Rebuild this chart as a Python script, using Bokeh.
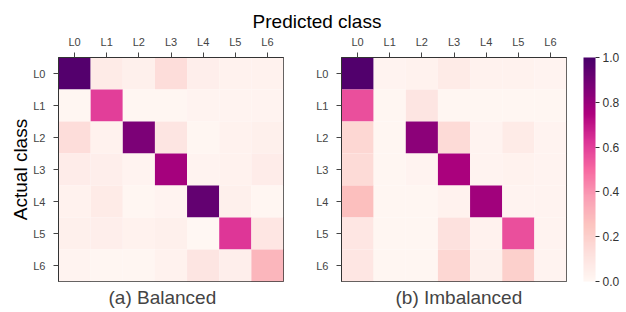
from bokeh.plotting import figure
from bokeh.models import (FactorRange, LinearColorMapper, ColorBar, FixedTicker,
                          Title, Div, ColumnDataSource, PrintfTickFormatter)
from bokeh.layouts import row, column
from bokeh.palettes import RdPu9
from bokeh.embed import file_html
from bokeh.resources import INLINE

classes = ["L0", "L1", "L2", "L3", "L4", "L5", "L6"]

# rows = actual class, columns = predicted class
balanced = [
    [0.97, 0.07, 0.04, 0.14, 0.05, 0.03, 0.03],
    [0.01, 0.60, 0.01, 0.01, 0.02, 0.02, 0.02],
    [0.14, 0.03, 0.87, 0.10, 0.01, 0.03, 0.04],
    [0.06, 0.05, 0.02, 0.77, 0.02, 0.03, 0.06],
    [0.03, 0.07, 0.01, 0.02, 0.93, 0.04, 0.01],
    [0.04, 0.05, 0.03, 0.04, 0.00, 0.62, 0.09],
    [0.02, 0.01, 0.01, 0.03, 0.10, 0.05, 0.30],
]
imbalanced = [
    [0.98, 0.02, 0.03, 0.07, 0.03, 0.03, 0.02],
    [0.56, 0.01, 0.10, 0.01, 0.01, 0.01, 0.01],
    [0.17, 0.01, 0.83, 0.15, 0.02, 0.07, 0.02],
    [0.15, 0.01, 0.02, 0.76, 0.02, 0.03, 0.02],
    [0.27, 0.01, 0.01, 0.03, 0.78, 0.02, 0.02],
    [0.09, 0.01, 0.01, 0.12, 0.03, 0.56, 0.02],
    [0.09, 0.01, 0.01, 0.17, 0.04, 0.20, 0.02],
]
colorbar_ticks = [0.0, 0.2, 0.4, 0.6, 0.8, 1.0]


def hex2rgb(h):
    h = h.lstrip("#")
    return [int(h[i:i + 2], 16) for i in (0, 2, 4)]


stops = [hex2rgb(c) for c in reversed(RdPu9)]  # light -> dark
palette = []
n = 256
for i in range(n):
    t = i / (n - 1) * (len(stops) - 1)
    k = min(int(t), len(stops) - 2)
    f = t - k
    c = [round(stops[k][j] + (stops[k + 1][j] - stops[k][j]) * f) for j in range(3)]
    palette.append("#%02x%02x%02x" % tuple(c))

mapper = LinearColorMapper(palette=palette, low=0, high=1)

FONT = "Liberation Sans"


def make(mat, caption, caption_offset, left_border, right_border, ylabel=None):
    xs, ys, vs = [], [], []
    for r, actual in enumerate(classes):
        for c, pred in enumerate(classes):
            xs.append(pred)
            ys.append(actual)
            vs.append(mat[r][c])
    src = ColumnDataSource(dict(x=xs, y=ys, v=vs))
    p = figure(x_range=FactorRange(*classes), y_range=FactorRange(*reversed(classes)),
               x_axis_location="above", frame_width=225, frame_height=224,
               output_backend="svg", toolbar_location=None,
               min_border_left=left_border, min_border_right=right_border,
               min_border_top=24, min_border_bottom=22)
    p.rect(x="x", y="y", width=1, height=1, source=src,
           fill_color={"field": "v", "transform": mapper}, line_color=None)
    p.grid.visible = False
    p.outline_line_color = "#333333"
    p.outline_line_width = 1
    for ax in (p.xaxis[0], p.yaxis[0]):
        ax.major_label_text_font = FONT
        ax.major_label_text_font_size = "11px"
        ax.major_label_text_color = "#444444"
        ax.major_tick_out = 5
        ax.major_tick_in = 0
        ax.major_tick_line_color = "#444444"
        ax.axis_line_color = "#333333"
    p.xaxis.major_label_standoff = 5
    p.yaxis.major_label_standoff = 8
    if ylabel:
        p.yaxis.axis_label = ylabel
        p.yaxis.axis_label_text_font = FONT
        p.yaxis.axis_label_text_font_size = "19px"
        p.yaxis.axis_label_text_font_style = "normal"
        p.yaxis.axis_label_text_color = "#000000"
        p.yaxis.axis_label_standoff = -1
    p.add_layout(Title(text=caption, align="left", offset=caption_offset,
                       text_font=FONT, text_font_size="19px",
                       text_font_style="normal", standoff=6), "below")
    return p


p1 = make(balanced, "(a) Balanced", 50, 58, 17, ylabel="Actual class")
p2 = make(imbalanced, "(b) Imbalanced", 54, 41, 59)

cb = ColorBar(color_mapper=mapper, ticker=FixedTicker(ticks=colorbar_ticks),
              formatter=PrintfTickFormatter(format="%.1f"), width=12, height=224,
              padding=0, margin=0, location=(17, 0),
              major_label_text_font=FONT, major_label_text_font_size="12px",
              major_label_text_color="#333333",
              major_tick_in=0, major_tick_out=4, major_tick_line_color="#333333",
              bar_line_color=None, label_standoff=3, background_fill_color=None)
p2.add_layout(cb, "right")

title = Div(text='<div style="width:624px;text-align:center;font-family:\'Liberation Sans\';'
                 'font-size:19px;line-height:19px;position:relative;top:7px;">'
                 'Predicted class</div>',
            width=624, height=22)

layout = column(title, row(p1, p2, spacing=0), spacing=0)

open("out.html", "w").write(file_html(layout, INLINE))
